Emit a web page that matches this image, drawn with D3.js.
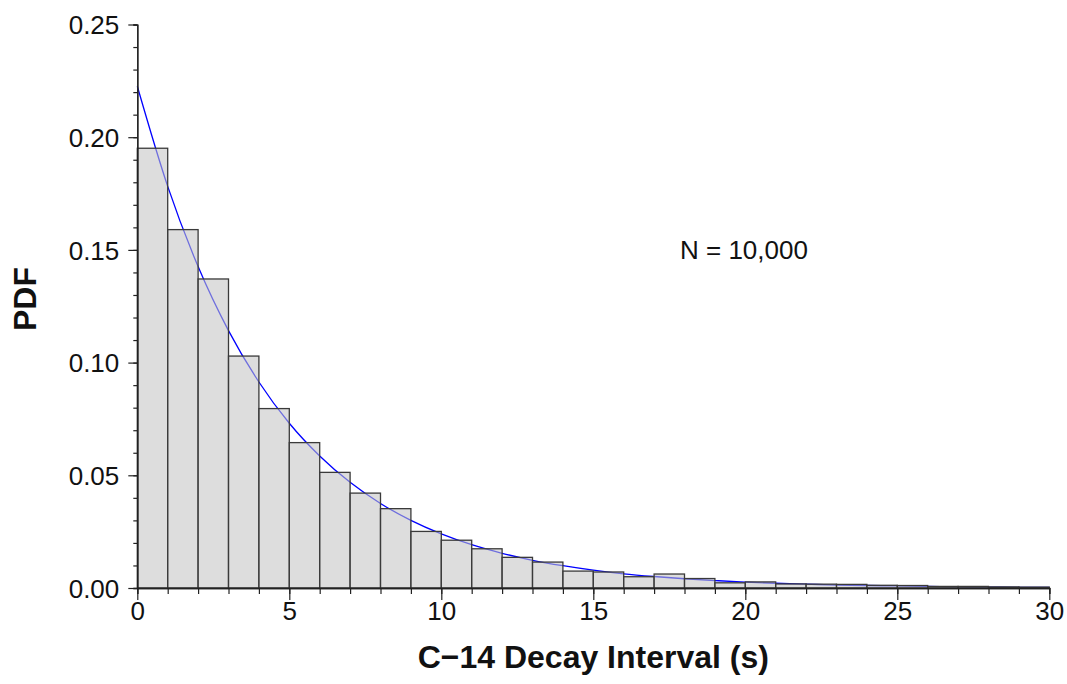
<!DOCTYPE html>
<meta charset="utf-8">
<style>
  body { margin: 0; background: #fff; }
  text { font-family: "Liberation Sans", Arial, sans-serif; }
</style>
<div id="chart"></div>
<script src="https://d3js.org/d3.v7.min.js"></script>
<script>

// histogram bins (left edge, seconds) and their density
var binStarts = d3.range(0, 30)
var binPdf = [0.1951, 0.1590, 0.1371, 0.1029, 0.0796, 0.0645, 0.0513, 0.0421, 0.0352, 0.0251,
              0.0212, 0.0174, 0.0136, 0.0115, 0.0075, 0.0071, 0.0050, 0.0062, 0.0042, 0.0023,
              0.0027, 0.0018, 0.0017, 0.0016, 0.0012, 0.0011, 0.0007, 0.0007, 0.0005, 0.0004]

// fitted curve at whole seconds
var curveX = d3.range(0, 31)
var curveY = [0.2226, 0.1782, 0.1426, 0.1142, 0.0914, 0.0731, 0.0586, 0.0469, 0.0375, 0.0300,
              0.0240, 0.0192, 0.0154, 0.0123, 0.0099, 0.0079, 0.0063, 0.0051, 0.0041, 0.0033,
              0.0026, 0.0021, 0.0017, 0.0013, 0.0011, 0.0009, 0.0007, 0.0005, 0.0004, 0.0003, 0.0003]

var xTicks = [0, 5, 10, 15, 20, 25, 30]
var yTicks = [0, 0.05, 0.10, 0.15, 0.20, 0.25]
var label = "N = 10,000"

var width = 1067
    height = 684

var svg = d3.select("#chart")
  .append("svg")
    .attr("width", width)
    .attr("height", height)

var x = d3.scaleLinear().domain([0, 30]).range([137.3, 1049.3])
var y = d3.scaleLinear().domain([0, 0.25]).range([588, 24.5])

// curve goes under the bars, bars are see-through
svg.append("path")
  .datum(curveX.map(function(d, i) { return [d, curveY[i]] }))
  .attr("fill", "none")
  .attr("stroke", "#0000ff")
  .attr("stroke-width", 1.3)
  .attr("d", d3.line()
    .x(function(d) { return x(d[0]) })
    .y(function(d) { return y(d[1]) })
    .curve(d3.curveMonotoneX))

svg.selectAll("rect.bar")
  .data(binStarts)
  .enter()
  .append("rect")
    .attr("class", "bar")
    .attr("x", function(d) { return x(d) })
    .attr("width", function(d) { return x(d + 1) - x(d) })
    .attr("y", function(d, i) { return y(binPdf[i]) })
    .attr("height", function(d, i) { return y(0) - y(binPdf[i]) })
    .attr("fill", "rgb(196,196,196)")
    .attr("fill-opacity", 0.57)
    .attr("stroke", "#3a3a3a")
    .attr("stroke-width", 1.3)

// axes
var xMinor = svg.append("g")
  .attr("transform", "translate(0," + y(0) + ")")
  .call(d3.axisBottom(x).tickValues(d3.range(0, 31)).tickSize(6).tickFormat(""))
var xAxis = svg.append("g")
  .attr("transform", "translate(0," + y(0) + ")")
  .call(d3.axisBottom(x).tickValues(xTicks).tickSize(12).tickSizeOuter(0).tickPadding(2))

var yMinor = svg.append("g")
  .attr("transform", "translate(" + x(0) + ",0)")
  .call(d3.axisLeft(y).tickValues(d3.range(0, 26).map(function(d) { return d / 100 })).tickSize(4).tickFormat(""))
var yAxis = svg.append("g")
  .attr("transform", "translate(" + x(0) + ",0)")
  .call(d3.axisLeft(y).tickValues(yTicks).tickSize(9).tickSizeOuter(0).tickPadding(9).tickFormat(d3.format(".2f")))

svg.selectAll(".domain").attr("stroke", "#222").attr("stroke-width", 1.3)
svg.selectAll(".tick line").attr("stroke", "#222").attr("stroke-width", 1.2)
svg.selectAll(".tick text")
  .attr("font-family", "Liberation Sans, Arial, sans-serif")
  .attr("font-size", 26)
  .attr("fill", "#111")
yAxis.selectAll(".tick text").attr("dy", "0.36em")

// labels
svg.append("text")
  .attr("x", 680)
  .attr("y", 259)
  .attr("font-size", 26)
  .attr("fill", "#111")
  .text(label)

svg.append("text")
  .attr("x", (x(0) + x(30)) / 2 + 0)
  .attr("y", 668)
  .attr("text-anchor", "middle")
  .attr("font-size", 32)
  .attr("font-weight", "bold")
  .attr("fill", "#111")
  .text("C\u221214 Decay Interval (s)")

svg.append("text")
  .attr("transform", "translate(36,299) rotate(-90)")
  .attr("text-anchor", "middle")
  .attr("font-size", 32)
  .attr("font-weight", "bold")
  .attr("fill", "#111")
  .text("PDF")

</script>
